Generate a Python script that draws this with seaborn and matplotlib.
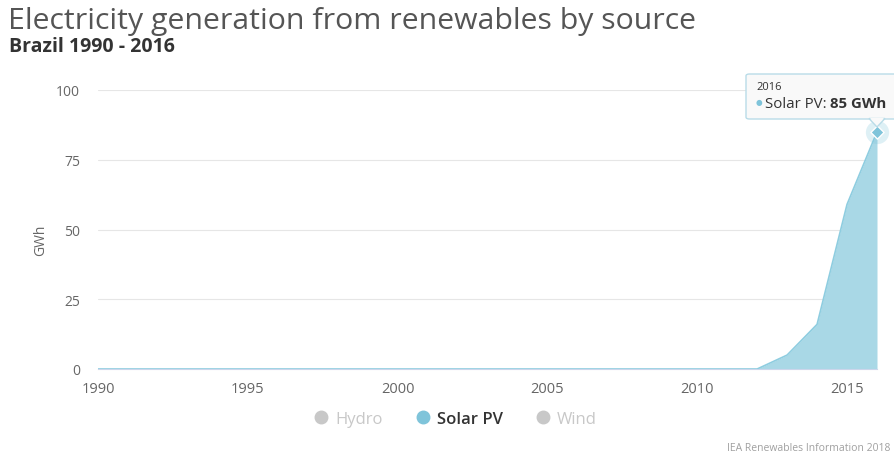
import matplotlib
matplotlib.use('Agg')
import matplotlib.pyplot as plt
import seaborn as sns
import pandas as pd
from matplotlib.lines import Line2D
from matplotlib.patches import FancyBboxPatch, Polygon

# ---------------- data ----------------
YEARS = [1990, 1991, 1992, 1993, 1994, 1995, 1996, 1997, 1998, 1999,
         2000, 2001, 2002, 2003, 2004, 2005, 2006, 2007, 2008, 2009,
         2010, 2011, 2012, 2013, 2014, 2015, 2016]
SOLAR_PV = [0, 0, 0, 0, 0, 0, 0, 0, 0, 0,
            0, 0, 0, 0, 0, 0, 0, 0, 0, 0,
            0, 0, 0, 5, 16, 59, 85]
LEGEND_ITEMS = ['Hydro', 'Solar PV', 'Wind']
LEGEND_VISIBLE = [False, True, False]
X_TICKS = [1990, 1995, 2000, 2005, 2010, 2015]
Y_TICKS = [0, 25, 50, 75, 100]

TITLE = 'Electricity generation from renewables by source'
SUBTITLE = 'Brazil 1990 - 2016'
CREDIT = 'IEA Renewables Information 2018'

# ---------------- style ----------------
FILL = '#a9d8e6'
LINE = '#8ecde0'
DOT = '#7fc4da'
HIDDEN = '#c8c8c8'
W, H = 895, 460

sns.set_theme(style='white')
plt.rcParams['font.family'] = ['Open Sans', 'DejaVu Sans']


def px(x, y):
    # pixel (from top-left) -> figure fraction
    return x / W, 1 - y / H


df = pd.DataFrame({'year': YEARS, 'gwh': SOLAR_PV})

fig = plt.figure(figsize=(W / 100, H / 100), dpi=100)
ax = fig.add_axes([98 / W, 1 - 370 / H, 779 / W, 279 / H])

ax.fill_between(df['year'], df['gwh'], 0, color=FILL, lw=0, zorder=2)
sns.lineplot(data=df, x='year', y='gwh', ax=ax, color=LINE, lw=1.2, zorder=3)

ax.set_xlim(YEARS[0], YEARS[-1])
ax.set_ylim(0, 100)
ax.set_xticks(X_TICKS)
ax.set_yticks(Y_TICKS)
ax.set_xlabel('')
ax.set_ylabel('')
fig.text(*px(41, 240), 'GWh', rotation=90, color='#666666', fontsize=10,
         ha='center', va='center')

ax.yaxis.grid(True, color='#e6e6e6', lw=0.8)
ax.xaxis.grid(False)
for side in ['top', 'right', 'left']:
    ax.spines[side].set_visible(False)
ax.spines['bottom'].set_color('#ccd6eb')
ax.spines['bottom'].set_linewidth(0.8)
ax.tick_params(axis='x', colors='#ccd6eb', length=8, width=0.8, direction='out',
               labelcolor='#666666', labelsize=10.5, pad=0.5)
ax.tick_params(axis='y', length=0, labelcolor='#666666', labelsize=10, pad=13)

# highlighted point of 2016
ax.scatter([YEARS[-1]], [SOLAR_PV[-1]], s=280, color=DOT, alpha=0.25,
           lw=0, clip_on=False, zorder=4)
ax.scatter([YEARS[-1]], [SOLAR_PV[-1]], s=45, marker='D', color=DOT,
           edgecolor='white', lw=1, clip_on=False, zorder=5)

# title and subtitle
fig.text(*px(8, 22), TITLE, fontsize=21.8, color='#555555', va='center')
fig.text(*px(9, 47), SUBTITLE, fontsize=14, color='#333333',
         fontweight='bold', va='center')

# tooltip
box = FancyBboxPatch(px(746, 120), 200 / W, 45 / H,
                     boxstyle='round,pad=0,rounding_size=0.004',
                     transform=fig.transFigure, facecolor='#f9f9f9',
                     edgecolor='#b9dce8', lw=1, zorder=10)
fig.patches.append(box)
fig.patches.append(Polygon([px(869, 119.5), px(885, 119.5), px(877, 128)], closed=True,
                           transform=fig.transFigure, facecolor='#f9f9f9',
                           edgecolor='#b9dce8', lw=1, zorder=11))
fig.patches.append(Polygon([px(870, 119), px(884, 119), px(877, 126)], closed=True,
                           transform=fig.transFigure, facecolor='#f9f9f9',
                           lw=0, zorder=12))
fig.text(*px(756, 88), str(YEARS[-1]), fontsize=8, color='#333333',
         va='center', zorder=13)
fig.text(*px(756, 104), '\u25cf', fontsize=5.5, color=DOT, va='center', zorder=13)
label = fig.text(*px(765, 104), 'Solar PV: ', fontsize=10.8, color='#333333',
                 va='center', zorder=13)
fig.canvas.draw()
bb = label.get_window_extent()
fig.text(bb.x1 / W, 1 - 104 / H, f'{SOLAR_PV[-1]} GWh', fontsize=10.8,
         color='#333333', fontweight='bold', va='center', zorder=13)

# legend
handles = [Line2D([], [], marker='o', ls='', markersize=9,
                  color=DOT if vis else HIDDEN) for vis in LEGEND_VISIBLE]
leg = fig.legend(handles, LEGEND_ITEMS, loc='center', bbox_to_anchor=px(455, 420),
                 ncol=3, frameon=False, fontsize=12, handletextpad=0.35,
                 columnspacing=1.9, handlelength=1.0)
for txt, vis in zip(leg.get_texts(), LEGEND_VISIBLE):
    txt.set_color('#333333' if vis else HIDDEN)
    if vis:
        txt.set_fontweight('semibold')

fig.text(*px(890, 449), CREDIT, fontsize=7.5, color='#a0a0a0',
         ha='right', va='center')

fig.savefig('out.png', dpi=100, facecolor='white')
